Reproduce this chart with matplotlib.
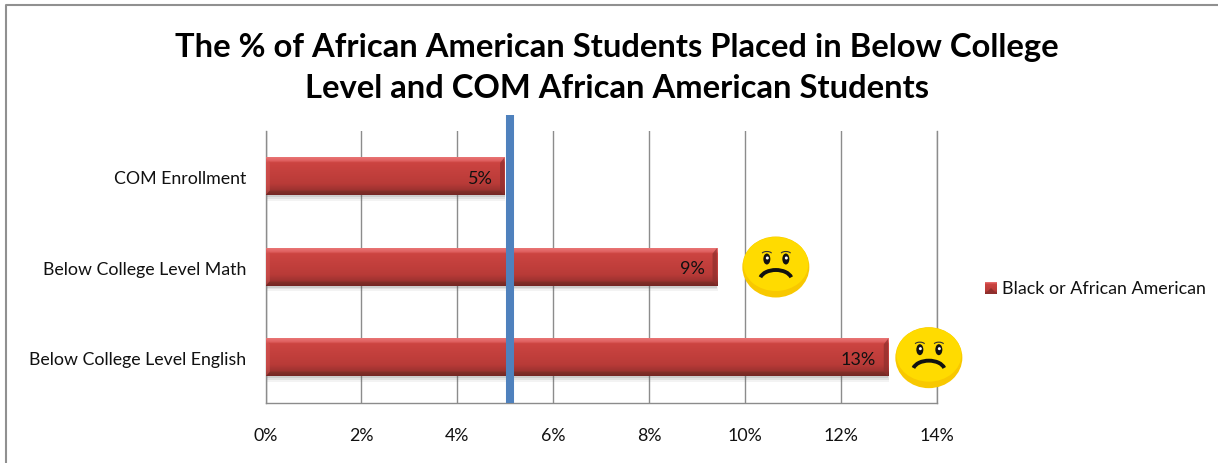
#!/usr/bin/env python3
import numpy as np
import matplotlib
matplotlib.use("Agg")
import matplotlib.pyplot as plt
from matplotlib.colors import LinearSegmentedColormap
from matplotlib.patches import Ellipse, Arc, Polygon, Rectangle

plt.rcParams["font.family"] = ["Lato", "DejaVu Sans"]

W, H = 1218, 464

# data
categories = ["Below College Level English", "Below College Level Math", "COM Enrollment"]
values = [12.98, 9.41, 4.98]
value_labels = ["13%", "9%", "5%"]
x_ticks = [0, 2, 4, 6, 8, 10, 12, 14]
x_tick_labels = ["0%", "2%", "4%", "6%", "8%", "10%", "12%", "14%"]
reference_line = 5.09
title = "The % of African American Students Placed in Below College\nLevel and COM African American Students"
legend_label = "Black or African American"
face_x = [13.83, 10.64]  # smileys, in axis units

fig = plt.figure(figsize=(W / 100, H / 100), dpi=100)
ax = fig.add_axes([265.5 / W, 1 - 404 / H, (937 - 265.5) / W, (404 - 132) / H])
ax.set_xlim(0, 14)
ax.set_ylim(-0.5, 2.5)

ax.spines["top"].set_visible(False)
for s in ["left", "bottom", "right"]:
    ax.spines[s].set_color("#8c8c8c")
    ax.spines[s].set_linewidth(1.0)
ax.set_axisbelow(True)
ax.xaxis.grid(True, color="#8c8c8c", linewidth=1.0)
ax.set_xticks(x_ticks)
ax.set_xticklabels(x_tick_labels, fontsize=12.8, color="#111111")
ax.set_yticks(range(len(categories)))
ax.set_yticklabels(categories, fontsize=12.8, color="#111111")
ax.tick_params(axis="x", length=0, pad=17)
ax.tick_params(axis="y", length=0, pad=14)

body = LinearSegmentedColormap.from_list(
    "bar", [(0, "#e87474"), (0.09, "#e06060"), (0.14, "#cc4441"), (0.7, "#b93b38"), (0.88, "#9c3230"), (0.9, "#843029"), (1, "#752624")]
)
grad = np.linspace(0, 1, 64).reshape(-1, 1)
BAR_H = 0.415
bevel = 0.09  # bevel corner width in axis units

for y, v, lab in zip(range(len(values)), values, value_labels):
    # soft shadow under the bar
    for k, a in zip([0.06, 0.04, 0.02], [0.07, 0.1, 0.15]):
        ax.add_patch(Rectangle((0, y - BAR_H / 2 - k), v + k / 4, BAR_H, color="#555555", alpha=a, lw=0, zorder=2))
    ax.imshow(grad, cmap=body, aspect="auto", extent=(0, v, y - BAR_H / 2, y + BAR_H / 2), zorder=3)
    top, bot = y + BAR_H / 2, y - BAR_H / 2
    # end bevels
    ax.add_patch(Polygon([(v - bevel, top - 0.06), (v, top), (v, bot), (v - bevel, bot + 0.05)], color="#8f2f2d", alpha=0.7, lw=0, zorder=4))
    ax.add_patch(Polygon([(0, top), (bevel, top - 0.06), (bevel, bot + 0.05), (0, bot)], color="#d65a58", alpha=0.5, lw=0, zorder=4))
    ax.text(v - 0.25, y - 0.015, lab, ha="right", va="center", fontsize=13, color="#111111", zorder=6)

ax.set_xlim(0, 14)
ax.set_ylim(-0.5, 2.5)

# vertical reference line, runs a bit above the plot area
ax.plot([reference_line, reference_line], [-0.5, 2.68], color="#4f81bd", lw=5.8, solid_capstyle="butt",
        clip_on=False, zorder=5)

# overlay in pixel coordinates for the frame, legend and smileys
ov = fig.add_axes([0, 0, 1, 1], facecolor="none")
ov.set_xlim(0, W)
ov.set_ylim(H, 0)
ov.axis("off")
ov.plot([5.5, 5.5, W], [H, 5.5, 5.5], color="#909090", lw=1.5)

ov.text(617, 67.5, title, ha="center", va="center", fontsize=23.6, fontweight="bold", color="black", linespacing=1.5)

# legend
ov.imshow(grad, cmap=body, aspect="auto", extent=(985, 997, 295, 283), zorder=3)
ov.add_patch(Polygon([(985, 295), (991, 289), (997, 295)], color="#8f2f2d", lw=0, zorder=4))
ov.text(1002, 289.5, legend_label, ha="left", va="center", fontsize=12.9, color="#111111")
ov.set_xlim(0, W)
ov.set_ylim(H, 0)


def draw_face(cx, cy):
    ov.add_patch(Ellipse((cx, cy), 67, 61, color="#f8c800", lw=0, zorder=6))
    ov.add_patch(Ellipse((cx, cy - 3), 65, 54, color="#ffdb00", lw=0, zorder=6))
    ov.add_patch(Arc((cx, cy + 13), 32, 20, theta1=190, theta2=350, color="#111111", lw=2.8, zorder=7))
    for dx in [-9, 10]:
        ov.add_patch(Ellipse((cx + dx, cy - 8), 7, 11, color="#111111", lw=0, zorder=7))
        ov.add_patch(Ellipse((cx + dx + 0.5, cy - 9), 3, 3, color="white", lw=0, zorder=8))
        ov.add_patch(Arc((cx + dx, cy - 13), 10, 5, theta1=190, theta2=350, color="#333333", lw=0.8, zorder=7))


for fx, y in zip(face_x, range(len(face_x))):
    px, py = ax.transData.transform((fx, y))
    draw_face(px, H - py)

fig.savefig("out.png", dpi=100, facecolor="white")
